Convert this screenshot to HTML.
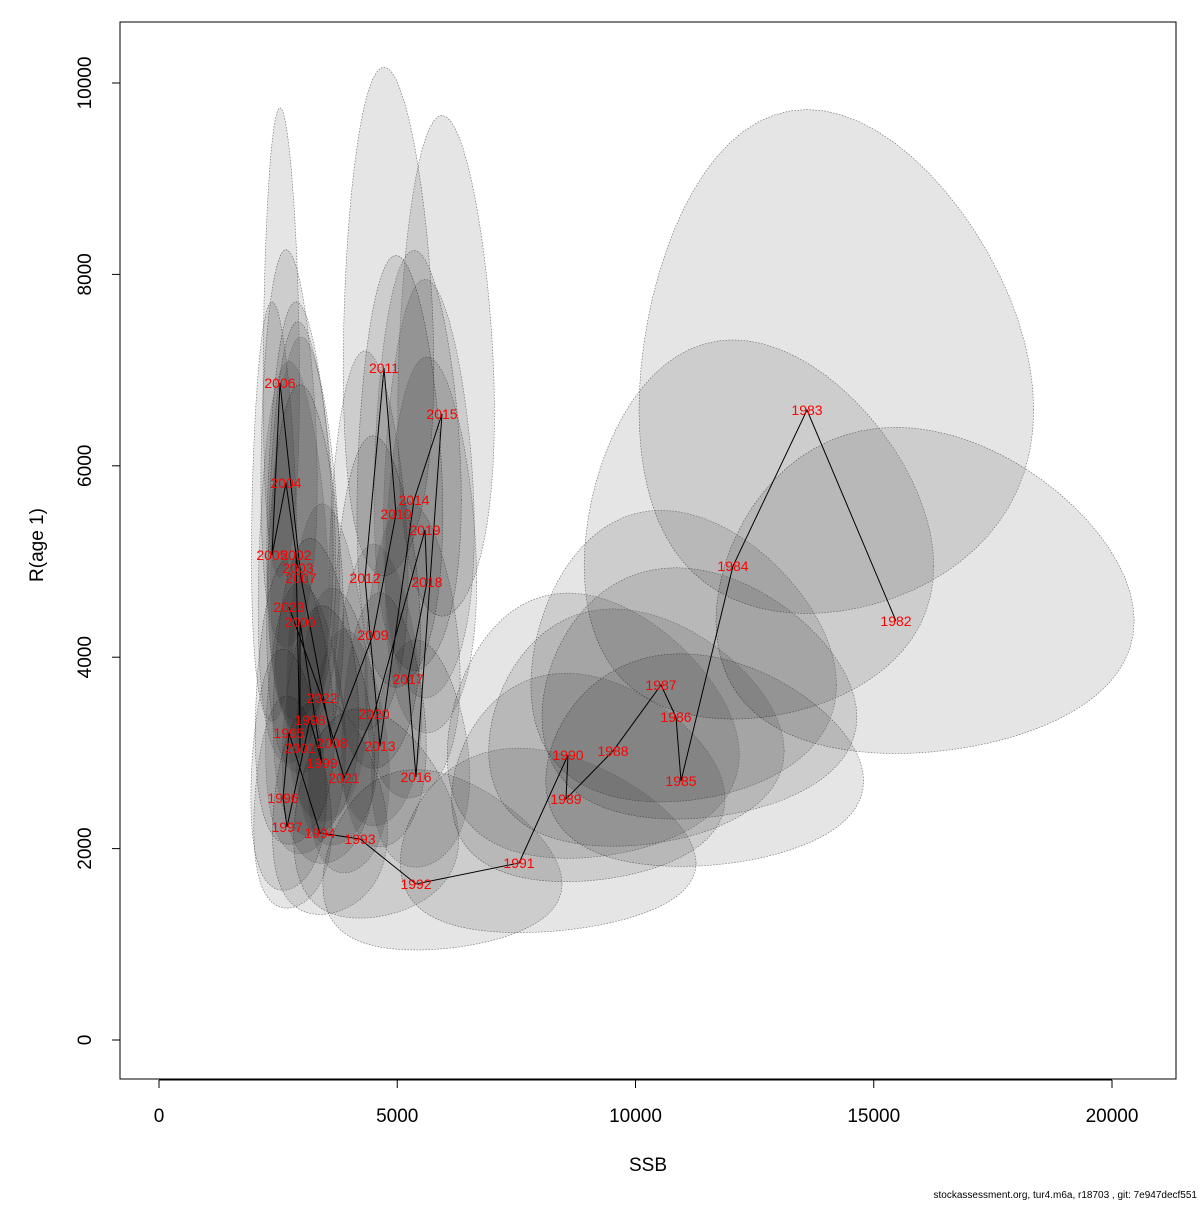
<!DOCTYPE html>
<html><head><meta charset="utf-8"><style>
body{margin:0;background:#fff}
svg text{font-family:"Liberation Sans",sans-serif}
</style></head><body>
<svg id="chart" width="1200" height="1200" viewBox="0 0 1200 1200" xmlns="http://www.w3.org/2000/svg">
<rect x="120" y="22" width="1056" height="1057" fill="none" stroke="#000" stroke-width="1"/>
<g id="ell"></g>
<g id="lines"></g>
<g id="labs"></g>
<g id="axes"></g>
<text x="648" y="1171" font-size="19" text-anchor="middle">SSB</text>
<text x="43" y="545" font-size="19" text-anchor="middle" transform="rotate(-90 43 545)">R(age 1)</text>
<text x="1197" y="1198" font-size="10" text-anchor="end">stockassessment.org, tur4.m6a, r18703 , git: 7e947decf551</text>
</svg>
<script>
const years=[1982,1983,1984,1985,1986,1987,1988,1989,1990,1991,1992,1993,1994,1995,1996,1997,1998,1999,2000,2001,2002,2003,2004,2005,2006,2007,2008,2009,2010,2011,2012,2013,2014,2015,2016,2017,2018,2019,2020,2021,2022,2023];
const ssb=[15467,13599,12046,10955,10850,10535,9528,8541,8583,7555,5394,4218,3379,2728,2602,2686,3169,3421,2959,2959,2875,2917,2665,2371,2539,2980,3631,4491,4974,4722,4323,4638,5352,5939,5394,5226,5624,5582,4512,3882,3421,2728];
const rec=[4378,6583,4953,2706,3375,3710,3020,2518,2978,1850,1630,2100,2163,3208,2529,2226,3344,2894,4368,3051,5068,4932,5820,5068,6865,4828,3103,4232,5496,7022,4828,3072,5643,6541,2748,3772,4786,5329,3406,2738,3574,4524];
const ssbSpread=[0.28,0.30,0.30,0.30,0.30,0.30,0.32,0.33,0.35,0.40,0.45,0.40,0.35,0.30,0.30,0.30,0.28,0.28,0.27,0.28,0.24,0.24,0.22,0.20,0.15,0.24,0.24,0.20,0.18,0.20,0.19,0.19,0.17,0.17,0.19,0.19,0.17,0.17,0.20,0.22,0.25,0.27];
const recSpread=[0.38,0.39,0.39,0.40,0.38,0.40,0.40,0.42,0.45,0.50,0.55,0.50,0.50,0.45,0.48,0.48,0.45,0.45,0.45,0.45,0.42,0.42,0.35,0.42,0.35,0.42,0.42,0.40,0.40,0.37,0.40,0.42,0.38,0.39,0.42,0.40,0.40,0.40,0.42,0.45,0.45,0.45];
const xTicks=[0,5000,10000,15000,20000];
const yTicks=[0,2000,4000,6000,8000,10000];
const NS="http://www.w3.org/2000/svg";
const xs=v=>159+v*(953/20000);
const ys=v=>1040-v*(957/10000);
function mk(t,p){const e=document.createElementNS(NS,t);for(const k in p)e.setAttribute(k,p[k]);return e;}
const gE=document.getElementById('ell'),gL=document.getElementById('lines'),gT=document.getElementById('labs'),gA=document.getElementById('axes');
years.forEach((y,i)=>{
  const lx=Math.log(ssb[i]),ly=Math.log(rec[i]);let d='';
  for(let k=0;k<=72;k++){const a=k/72*2*Math.PI;
    const px=xs(Math.exp(lx+ssbSpread[i]*Math.cos(a))),py=ys(Math.exp(ly+recSpread[i]*Math.sin(a)));
    d+=(k?'L':'M')+px.toFixed(1)+' '+py.toFixed(1);}
  const p=mk('path',{d:d+'Z',fill:'rgba(0,0,0,0.1)',stroke:'#666','stroke-width':'0.6','stroke-dasharray':'1.5 1.5'});
  
  
  gE.appendChild(p);
});
const pts=years.map((y,i)=>xs(ssb[i]).toFixed(1)+','+ys(rec[i]).toFixed(1)).join(' ');
const pl=mk('polyline',{points:pts,fill:'none',stroke:'#000','stroke-width':'1'});


gL.appendChild(pl);
years.forEach((y,i)=>{
  const t=mk('text',{x:xs(ssb[i]),y:ys(rec[i])+5,'font-size':'14',fill:'#ff0000','text-anchor':'middle'});
  t.textContent=y;
  
  
  gT.appendChild(t);
});
const xl=mk('line',{x1:xs(0),x2:xs(20000),y1:1080,y2:1080,stroke:'#000'});


gA.appendChild(xl);
xTicks.forEach(v=>{
  const l=mk('line',{x1:xs(v),x2:xs(v),y1:1080,y2:1088,stroke:'#000'});
  
  
  gA.appendChild(l);
  const t=mk('text',{x:xs(v),y:1122,'font-size':'19','text-anchor':'middle'});
  t.textContent=v;
  
  
  gA.appendChild(t);
});
const yl=mk('line',{x1:120,x2:120,y1:ys(0),y2:ys(10000),stroke:'#000'});


gA.appendChild(yl);
yTicks.forEach(v=>{
  const l=mk('line',{x1:112,x2:120,y1:ys(v),y2:ys(v),stroke:'#000'});
  
  
  gA.appendChild(l);
  const t=mk('text',{x:91,y:ys(v),'font-size':'19','text-anchor':'middle',transform:'rotate(-90 91 '+ys(v)+')'});
  t.textContent=v;
  
  
  gA.appendChild(t);
});
</script>
</body></html>
